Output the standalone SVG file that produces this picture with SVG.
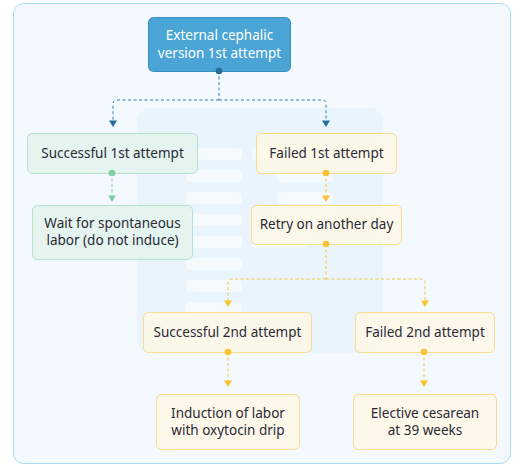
<svg xmlns="http://www.w3.org/2000/svg" width="520" height="468" viewBox="0 0 520 468">
<defs>
<style>
text{font-family:"Noto Sans","Liberation Sans",sans-serif;font-size:13.5px;fill:#2a2a36;text-anchor:middle}
.top text{fill:#ffffff}
.g rect{fill:#e3f3ec;fill-opacity:0.85;stroke:#b7e1cc;stroke-width:1}
.y rect{fill:#fff7e3;fill-opacity:0.8;stroke:#f9dc8c;stroke-width:1}
.bar{fill:#ffffff;opacity:0.55}
.cb{fill:none;stroke:#2f80b3;stroke-width:1;stroke-dasharray:3 2.5}
.cg{fill:none;stroke:#7ecfa6;stroke-width:1;stroke-dasharray:3 2.5}
.cy{fill:none;stroke:#f8c232;stroke-width:1;stroke-dasharray:3 2.5}
</style>
</defs>
<rect x="13.5" y="3.5" width="497" height="460" rx="10" fill="#f3f9fe" stroke="#a8ddf5" stroke-width="1"/>
<g id="watermark">
<rect x="137" y="108" width="246" height="245" rx="14" fill="#e6f3fb" opacity="0.8"/>
<rect class="bar" x="186" y="148" width="56" height="12" rx="4"/>
<rect class="bar" x="186" y="170" width="56" height="12" rx="4"/>
<rect class="bar" x="186" y="192" width="56" height="12" rx="4"/>
<rect class="bar" x="186" y="214" width="56" height="12" rx="4"/>
<rect class="bar" x="186" y="236" width="56" height="12" rx="4"/>
<rect class="bar" x="186" y="258" width="56" height="12" rx="4"/>
<rect class="bar" x="186" y="280" width="56" height="12" rx="4"/>
<rect class="bar" x="186" y="302" width="56" height="12" rx="4"/>
<rect class="bar" x="252" y="148" width="56" height="12" rx="4"/>
<rect class="bar" x="277" y="170" width="56" height="12" rx="4"/>
<rect class="bar" x="277" y="192" width="56" height="12" rx="4"/>
<rect class="bar" x="277" y="214" width="56" height="12" rx="4"/>
<rect class="bar" x="252" y="236" width="56" height="12" rx="4"/>
</g>
<g id="n-ecv" class="top">
<rect x="148.5" y="17.5" width="142" height="54" rx="5" fill="#4aa5d6" stroke="#3a8fc2" stroke-width="1"/>
<text x="219.5" y="39.5">External cephalic</text>
<text x="219.5" y="57.5">version 1st attempt</text>
</g>
<g id="n-succ1" class="g">
<rect x="27.5" y="133.5" width="170" height="40" rx="5"/>
<text x="112.5" y="158">Successful 1st attempt</text>
</g>
<g id="n-fail1" class="y">
<rect x="256.5" y="133.5" width="140" height="40" rx="5"/>
<text x="326.5" y="158">Failed 1st attempt</text>
</g>
<g id="n-wait" class="g">
<rect x="32.5" y="205.5" width="160" height="54" rx="5"/>
<text x="112.5" y="227.5">Wait for spontaneous</text>
<text x="112.5" y="244.5">labor (do not induce)</text>
</g>
<g id="n-retry" class="y">
<rect x="251.5" y="205.5" width="150" height="39" rx="5"/>
<text x="326.5" y="229">Retry on another day</text>
</g>
<g id="n-succ2" class="y">
<rect x="143.5" y="312.5" width="168" height="40" rx="5"/>
<text x="227.5" y="337">Successful 2nd attempt</text>
</g>
<g id="n-fail2" class="y">
<rect x="355.5" y="312.5" width="139" height="40" rx="5"/>
<text x="425" y="337">Failed 2nd attempt</text>
</g>
<g id="n-induct" class="y">
<rect x="156.5" y="394.5" width="143" height="55" rx="5"/>
<text x="228" y="417.5">Induction of labor</text>
<text x="228" y="434.5">with oxytocin drip</text>
</g>
<g id="n-cs" class="y">
<rect x="353.5" y="394.5" width="143" height="55" rx="5"/>
<text x="425" y="417.5">Elective cesarean</text>
<text x="425" y="434.5">at 39 weeks</text>
</g>
<g id="connectors">
<path class="cb" d="M219,71 V100 M219,100 H117 Q113,100 113,104 V121 M219,100 H322 Q326,100 326,104 V121"/>
<circle cx="219" cy="71" r="3.3" fill="#246d99"/>
<polygon points="109,120.5 117,120.5 113,127" fill="#246d99"/>
<polygon points="322,120.5 330,120.5 326,127" fill="#246d99"/>
<path class="cg" d="M112,173 V196"/>
<circle cx="112" cy="173" r="3.3" fill="#7ecfa6"/>
<polygon points="108,195.5 116,195.5 112,202" fill="#7ecfa6"/>
<path class="cy" d="M326,173 V196"/>
<circle cx="326" cy="173" r="3.3" fill="#f8c232"/>
<polygon points="322,195.5 330,195.5 326,202" fill="#f8c232"/>
<path class="cy" d="M326,244 V279 M326,279 H232 Q228,279 228,283 V301 M326,279 H421 Q425,279 425,283 V301"/>
<circle cx="326" cy="244" r="3.3" fill="#f8c232"/>
<polygon points="224,300.5 232,300.5 228,307" fill="#f8c232"/>
<polygon points="421,300.5 429,300.5 425,307" fill="#f8c232"/>
<path class="cy" d="M228,352 V381 M424,352 V381"/>
<circle cx="228" cy="352" r="3.3" fill="#f8c232"/>
<circle cx="424" cy="352" r="3.3" fill="#f8c232"/>
<polygon points="224,380.5 232,380.5 228,387" fill="#f8c232"/>
<polygon points="420,380.5 428,380.5 424,387" fill="#f8c232"/>
</g>
</svg>
